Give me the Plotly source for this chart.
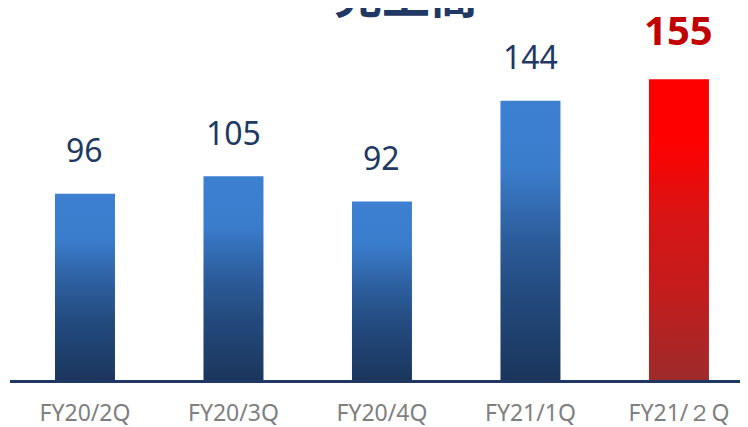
import plotly.graph_objects as go

categories = ["FY20/2Q", "FY20/3Q", "FY20/4Q", "FY21/1Q", "FY21/２Q"]
sales = [96, 105, 92, 144, 155]
highlight = [False, False, False, False, True]
title_text = "売上高"

NAVY = "#1f3864"
BLUE_SCALE = [[0.0, "#1b365d"], [0.3, "#234a7d"], [0.5, "#2c5c9a"],
              [0.76, "#3b7dcd"], [1.0, "#3d7fd0"]]
RED_SCALE = [[0.0, "#9e2b2b"], [0.3, "#c41c1c"], [0.55, "#d81414"],
             [0.8, "#ff0000"], [1.0, "#ff0000"]]
HALF_W = 0.202

fig = go.Figure()

# ── gradient bars (filled polygons) ─────────────────────────────────────────
for i, (cat, v, hi) in enumerate(zip(categories, sales, highlight)):
    fig.add_trace(go.Scatter(
        x=[i - HALF_W, i + HALF_W, i + HALF_W, i - HALF_W, i - HALF_W],
        y=[0, 0, v, v, 0],
        mode="lines", line=dict(width=0),
        fill="toself",
        fillgradient=dict(type="vertical",
                          colorscale=RED_SCALE if hi else BLUE_SCALE),
        name=cat, showlegend=False, hoverinfo="skip",
    ))

# ── value labels ────────────────────────────────────────────────────────────
for i, (v, hi) in enumerate(zip(sales, highlight)):
    fig.add_annotation(
        x=i, y=v, text=str(v), showarrow=False,
        yanchor="middle", yshift=50 if hi else 44,
        font=dict(family="Noto Sans", size=40 if hi else 32,
                  color="#c00000" if hi else NAVY,
                  weight="bold" if hi else "normal"),
    )

# ── title (cut off at the top) ──────────────────────────────────────────────
fig.add_annotation(
    x=0.537, xref="paper", y=1, yref="paper", yanchor="bottom", yshift=-9,
    text=title_text, showarrow=False,
    font=dict(family="Noto Sans CJK JP", size=48, color=NAVY, weight="bold"),
)

# page body has an 8px margin, so the figure is offset by (8, 8)
fig.update_layout(
    width=748, height=427,
    margin=dict(l=2, r=8, t=12, b=55),
    paper_bgcolor="white", plot_bgcolor="white",
    xaxis=dict(
        range=[-0.505, 4.465], automargin=False,
        tickvals=list(range(len(categories))), ticktext=categories,
        showgrid=False, zeroline=False,
        showline=True, linecolor=NAVY, linewidth=3,
        ticks="outside", ticklen=10, tickcolor="rgba(0,0,0,0)",
        tickfont=dict(family="Noto Sans", size=23, color="#7f7f7f"),
    ),
    yaxis=dict(range=[0, 185.6], visible=False, showgrid=False,
               automargin=False),
)

fig.write_html("out.html")
